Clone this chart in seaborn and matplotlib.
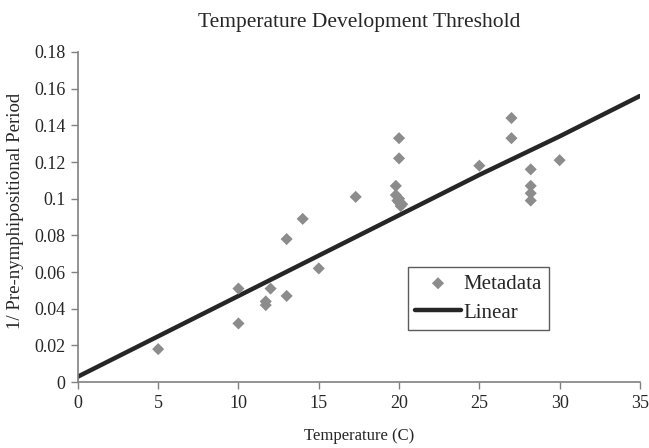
import numpy as np
import pandas as pd
import matplotlib
matplotlib.use("Agg")
import matplotlib.pyplot as plt
import seaborn as sns

# data
temps = [5, 10, 10, 11.7, 11.7, 12, 13, 13, 14, 15, 17.3,
         20, 20, 19.8, 19.8, 20, 20, 20.1, 19.9, 20.2,
         25, 27, 27, 28.2, 28.2, 28.2, 28.2, 30]
rates = [0.018, 0.051, 0.032, 0.044, 0.042, 0.051, 0.078, 0.047, 0.089, 0.062, 0.101,
         0.133, 0.122, 0.107, 0.102, 0.100, 0.098, 0.096, 0.099, 0.097,
         0.118, 0.144, 0.133, 0.116, 0.107, 0.103, 0.099, 0.121]

line_x = [0, 5, 10, 15, 20, 25, 30, 35]
line_y = [0.003, 0.025, 0.047, 0.069, 0.091, 0.113, 0.134, 0.156]

points = pd.DataFrame({"Temperature": temps, "Rate": rates})
trend = pd.DataFrame({"Temperature": line_x, "Rate": line_y})

sns.set_theme(style="white")
plt.rcParams['font.family'] = ['Liberation Serif', 'DejaVu Serif']

fig = plt.figure(figsize=(6.49, 4.48), dpi=100)
ax = fig.add_axes([0.12, 0.147, 0.866, 0.737])

sns.scatterplot(data=points, x="Temperature", y="Rate", marker="D", s=38,
                color="#8c8c8c", edgecolor="none", ax=ax, label="Metadata", zorder=3)
sns.lineplot(data=trend, x="Temperature", y="Rate", color="#262626",
             linewidth=3.2, ax=ax, label="Linear", zorder=2)

ax.set_xlim(0, 35)
ax.set_ylim(0, 0.18)
ax.set_xticks(np.arange(0, 36, 5))
ax.set_yticks(np.arange(0, 0.181, 0.02))
ax.set_yticklabels(["0", "0.02", "0.04", "0.06", "0.08", "0.1", "0.12", "0.14", "0.16", "0.18"])

for side in ["top", "right"]:
    ax.spines[side].set_visible(False)
for side in ["left", "bottom"]:
    ax.spines[side].set_color("#808080")
    ax.spines[side].set_linewidth(1.2)
ax.tick_params(axis="both", which="major", direction="out", length=5, width=1,
               color="#808080", labelsize=13, bottom=True, left=True, pad=4)

ax.set_xlabel("Temperature (C)", fontsize=12, labelpad=12)
ax.set_ylabel("1/ Pre-nymphipositional Period", fontsize=13.5, labelpad=7)
ax.yaxis.set_label_coords(-0.095, 0.52)
ax.set_title("Temperature Development Threshold", fontsize=15.5, pad=18)

leg = ax.legend(loc="lower left", bbox_to_anchor=(0.587, 0.158), borderaxespad=0,
                fontsize=15, frameon=True, fancybox=False, edgecolor="#333333",
                borderpad=0.35, handlelength=2.2, handletextpad=0.1, labelspacing=0.45)
leg.get_frame().set_linewidth(1.0)

fig.savefig("out.png", dpi=100)
